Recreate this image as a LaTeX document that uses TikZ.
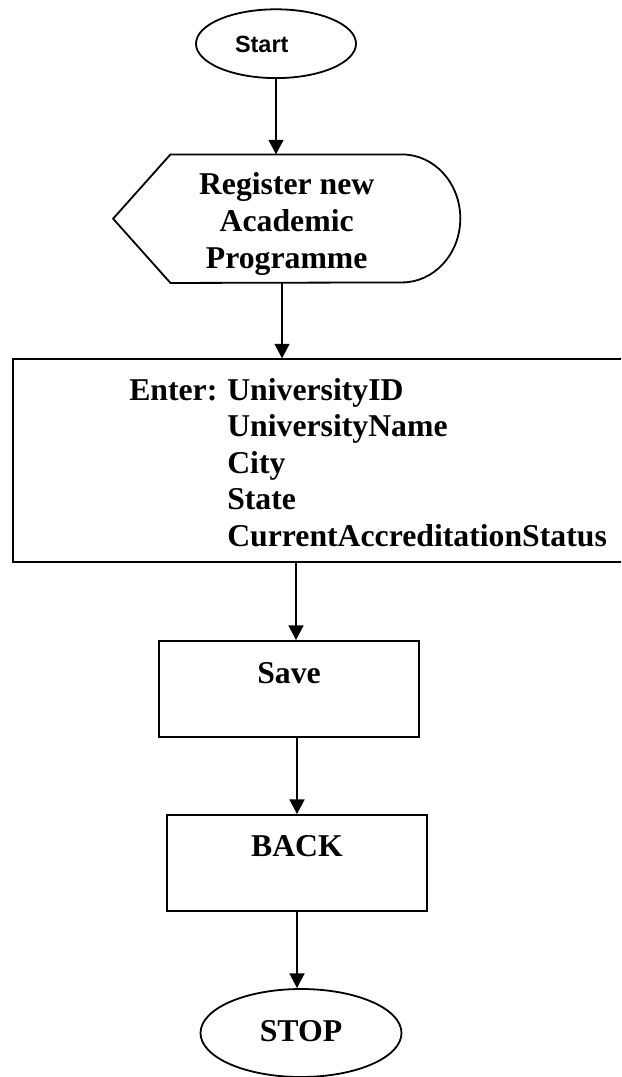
\documentclass[tikz,border=0pt]{standalone}
\usepackage{fontspec}
\setmainfont{Liberation Serif}
\newfontfamily\labelsans{Liberation Sans}
\usetikzlibrary{shapes.geometric,arrows.meta}
\begin{document}
\begin{tikzpicture}[x=0.75pt,y=-0.75pt,
  outline/.style={draw=black,line width=1.35pt},
  flow/.style={line width=1.9pt,-{Triangle[length=11pt,width=11pt]}},
  bigtext/.style={font=\bfseries\fontsize{23.8pt}{27.4pt}\selectfont},
  terminal/.style={outline,ellipse,inner sep=0pt},
  stepbox/.style={outline,rectangle,inner sep=0pt,bigtext}]
\useasboundingbox (0,0) rectangle (621,1077);
\clip (0,0) rectangle (621,1077);

% terminator: start
\node[terminal,minimum width=120pt,minimum height=51.6pt,
      text height=12.7pt,text depth=0pt,
      font=\labelsans\bfseries\fontsize{17.6pt}{20pt}\selectfont]
  (start) at (276,43.7) {\makebox[61.5pt][l]{Start}};

% display-shaped step
\node[bigtext,inner sep=0pt,minimum width=260pt,minimum height=96pt,
      text height=30.2pt,text depth=65.8pt]
  (reg) at (286.7,218.7)
  {\begin{tabular}[t]{@{}c@{}}Register new\\Academic\\Programme\end{tabular}};
\draw[outline] (reg.west) -- ([xshift=43pt]reg.north west)
  -- ([xshift=-43.7pt]reg.north east)
  arc[start angle=90,end angle=-90,x radius=43.7pt,y radius=48pt]
  -- ([xshift=43pt]reg.south west) -- cycle;

% data entry box
\node[stepbox,minimum width=470.25pt,minimum height=152pt] (enter) at (326.5,460.65) {};
\node[bigtext,inner sep=0pt,anchor=base west] (fields) at (129,400)
  {\begin{tabular}[t]{@{}p{73.5pt}@{}l@{}}
   Enter: & UniversityID\\
          & UniversityName\\
          & City\\
          & State\\
          & CurrentAccreditationStatus
   \end{tabular}};

% process boxes
\node[stepbox,minimum width=195pt,text height=31.5pt,text depth=40.5pt]
  (save) at (289,689) {Save};
\node[stepbox,minimum width=194.55pt,text height=30.75pt,text depth=41pt]
  (back) at (297,862.85) {BACK};

% terminator: stop
\node[terminal,bigtext,minimum width=150.75pt,minimum height=66pt,
      text height=15.75pt,text depth=3.75pt]
  (stop) at (301,1033) {STOP};

% connectors
\draw[flow] (start.south) -- (start.south |- reg.north);
\draw[flow] ([xshift=-3.5pt]reg.south) -- ([xshift=-3.5pt]reg.south |- enter.north);
\draw[flow] ([xshift=5.25pt]save.north |- enter.south) -- ([xshift=5.25pt]save.north);
\draw[flow] (back.north |- save.south) -- (back.north);
\draw[flow] (back.south) -- (back.south |- stop.north);
\end{tikzpicture}
\end{document}
